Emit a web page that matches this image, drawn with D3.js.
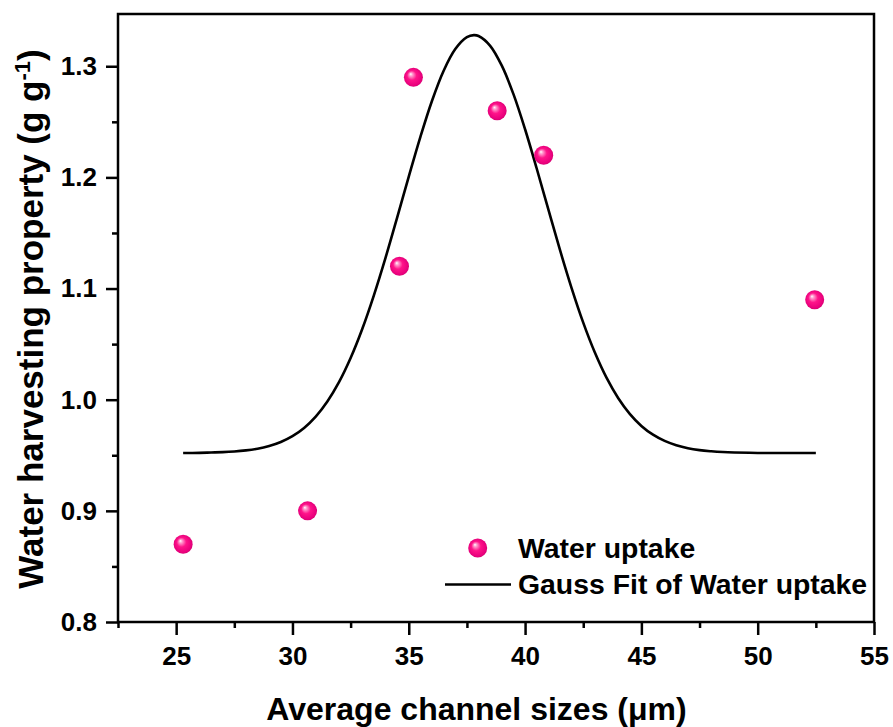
<!DOCTYPE html>
<html>
<head>
<meta charset="utf-8">
<script src="https://cdn.jsdelivr.net/npm/d3@7"></script>
<style>
  html, body { margin: 0; padding: 0; background: #fff; }
  svg { display: block; }
  text { font-family: "Liberation Sans", Arial, sans-serif; font-weight: bold; fill: #000; }
</style>
</head>
<body>
<svg id="chart" width="893" height="727"></svg>
<script>
// ---- data ----
const channelSizes = [25.3, 30.65, 34.6, 35.2, 38.8, 40.8, 52.45];
const waterUptake  = [0.87, 0.90, 1.12, 1.29, 1.26, 1.22, 1.09];

const fitX = [25.3, 26, 26.5, 27, 27.5, 28, 28.5, 29, 29.5, 30, 30.5, 31, 31.5, 32, 32.5, 33, 33.5, 34, 34.5, 35, 35.5,
              36, 36.5, 37, 37.5, 37.8, 38, 38.5, 39, 39.5, 40, 40.5, 41, 41.5, 42, 42.5, 43, 43.5, 44, 44.5, 45, 45.5,
              46, 46.5, 47, 47.5, 48, 48.5, 49, 50, 51, 52.5];
const fitY = [0.9520, 0.9522, 0.9525, 0.9528, 0.9534, 0.9544, 0.9559, 0.9584, 0.9620, 0.9672, 0.9746, 0.9848, 0.9984,
              1.0158, 1.0375, 1.0636, 1.0939, 1.1276, 1.1638, 1.2007, 1.2365, 1.2690, 1.2960, 1.3155, 1.3262, 1.3280,
              1.3272, 1.3184, 1.3005, 1.2749, 1.2433, 1.2080, 1.1712, 1.1347, 1.1004, 1.0693, 1.0424, 1.0198, 1.0016,
              0.9873, 0.9764, 0.9685, 0.9629, 0.9590, 0.9563, 0.9546, 0.9536, 0.9529, 0.9525, 0.9521, 0.9520, 0.9520];

const xTicks = [25, 30, 35, 40, 45, 50, 55];
const xMinorTicks = [22.5, 27.5, 32.5, 37.5, 42.5, 47.5, 52.5];
const yTicks = [0.8, 0.9, 1.0, 1.1, 1.2, 1.3];
const yMinorTicks = [0.85, 0.95, 1.05, 1.15, 1.25];

const xLabel = "Average channel sizes (μm)";
const yLabelMain = "Water harvesting property (g g";
const yLabelSup = "-1";
const legendLabels = ["Water uptake", "Gauss Fit of Water uptake"];

// ---- layout ----
const svg = d3.select("#chart");
const L = 118, R = 874, T = 14, B = 622;
const x = d3.scaleLinear().domain([22.5, 55]).range([L, R]);
const y = d3.scaleLinear().domain([0.8, 1.347]).range([B, T]);

// gradient for spheres
const defs = svg.append("defs");
const grad = defs.append("radialGradient").attr("id", "ball")
  .attr("cx", "50%").attr("cy", "50%").attr("r", "55%")
  .attr("fx", "35%").attr("fy", "32%");
grad.append("stop").attr("offset", "0%").attr("stop-color", "#ffffff");
grad.append("stop").attr("offset", "15%").attr("stop-color", "#ff9fd0");
grad.append("stop").attr("offset", "45%").attr("stop-color", "#ff148a");
grad.append("stop").attr("offset", "85%").attr("stop-color", "#e8007c");
grad.append("stop").attr("offset", "100%").attr("stop-color", "#c40066");

// axes
const xAxis = d3.axisBottom(x).tickValues(xTicks).tickSize(13).tickFormat(d3.format("d"));
const xAxisMinor = d3.axisBottom(x).tickValues(xMinorTicks).tickSize(6).tickFormat("");
const yAxis = d3.axisLeft(y).tickValues(yTicks).tickSize(12).tickPadding(9).tickFormat(d3.format(".1f"));
const yAxisMinor = d3.axisLeft(y).tickValues(yMinorTicks).tickSize(6).tickFormat("");

function styleAxis(g) {
  g.selectAll(".domain").remove();
  g.selectAll("line").attr("stroke", "#000").attr("stroke-width", 2.5);
  g.selectAll("text").style("font-size", "26px").style("font-family", "'Liberation Sans', Arial, sans-serif").style("font-weight", "bold");
}

svg.append("g").attr("transform", `translate(0,${B})`).call(xAxisMinor).call(styleAxis);
svg.append("g").attr("transform", `translate(0,${B})`).call(xAxis).call(styleAxis)
  .selectAll("text").attr("y", 43).attr("dy", 0);
svg.append("g").attr("transform", `translate(${L},0)`).call(yAxisMinor).call(styleAxis);
svg.append("g").attr("transform", `translate(${L},0)`).call(yAxis).call(styleAxis);

// frame
svg.append("rect").attr("x", L).attr("y", T).attr("width", R - L).attr("height", B - T)
  .attr("fill", "none").attr("stroke", "#000").attr("stroke-width", 2.5);

// fit line
const fitData = fitX.map((v, i) => [v, fitY[i]]);
svg.append("path").datum(fitData)
  .attr("fill", "none").attr("stroke", "#000").attr("stroke-width", 2.6)
  .attr("d", d3.line().x(d => x(d[0])).y(d => y(d[1])).curve(d3.curveCatmullRom.alpha(0.5)));

// points
const pts = channelSizes.map((v, i) => [v, waterUptake[i]]);
svg.append("g").selectAll("circle").data(pts).join("circle")
  .attr("cx", d => x(d[0])).attr("cy", d => y(d[1])).attr("r", 9.5)
  .attr("fill", "url(#ball)");

// legend
const lg = svg.append("g");
lg.append("circle").attr("cx", 477.7).attr("cy", 548).attr("r", 9.5).attr("fill", "url(#ball)");
lg.append("text").attr("x", 518).attr("y", 558).style("font-size", "28.4px").text(legendLabels[0]);
lg.append("line").attr("x1", 445).attr("x2", 511).attr("y1", 584.5).attr("y2", 584.5)
  .attr("stroke", "#000").attr("stroke-width", 2.6);
lg.append("text").attr("x", 518).attr("y", 593.5).style("font-size", "28.4px").text(legendLabels[1]);

// axis titles
svg.append("text").attr("x", 476.5).attr("y", 720).attr("text-anchor", "middle")
  .style("font-size", "32px").text(xLabel);

const yt = svg.append("text").attr("transform", `translate(43,319) rotate(-90)`)
  .attr("text-anchor", "middle").style("font-size", "35px");
yt.append("tspan").text(yLabelMain);
yt.append("tspan").attr("dy", "-13").style("font-size", "22px").text(yLabelSup);
yt.append("tspan").attr("dy", "13").text(")");
</script>
</body>
</html>
